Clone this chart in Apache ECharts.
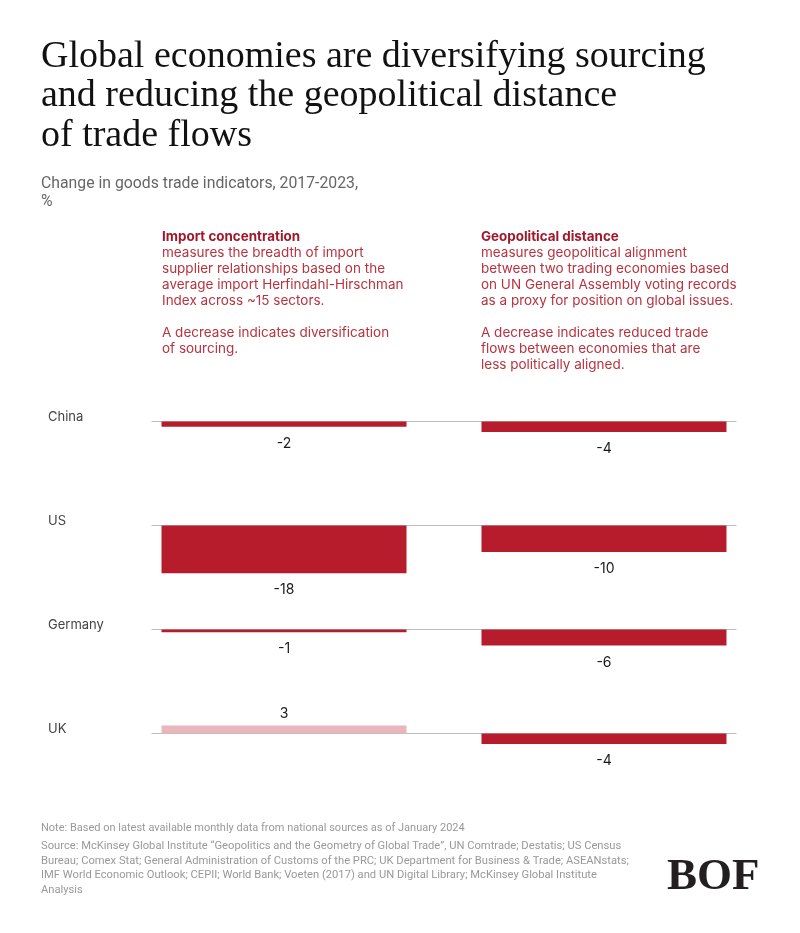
<!DOCTYPE html>
<html><head><meta charset="utf-8">
<script src="https://cdn.jsdelivr.net/npm/echarts@6/dist/echarts.min.js"></script>
<style>html,body{margin:0;padding:0;background:#fff}#c{width:800px;height:933px}</style>
</head><body><div id="c"></div>
<script>
// ---- data ----
const countries = ['China', 'US', 'Germany', 'UK'];
const importConcentration = [-2, -18, -1, 3];
const geopoliticalDistance = [-4, -10, -6, -4];
const panelTitles = ['Import concentration', 'Geopolitical distance'];
const panelTexts = [
  'measures the breadth of import\nsupplier relationships based on the\naverage import Herfindahl-Hirschman\nIndex across ~15 sectors.\n\nA decrease indicates diversification\nof sourcing.',
  'measures geopolitical alignment\nbetween two trading economies based\non UN General Assembly voting records\nas a proxy for position on global issues.\n\nA decrease indicates reduced trade\nflows between economies that are\nless politically aligned.'
];
const titleText = 'Global economies are diversifying sourcing\nand reducing the geopolitical distance\nof trade flows';
const subtitleText = 'Change in goods trade indicators, 2017-2023,\n%';
const noteText = 'Note: Based on latest available monthly data from national sources as of January 2024';
const sourceText = 'Source: McKinsey Global Institute \u201cGeopolitics and the Geometry of Global Trade\u201d, UN Comtrade; Destatis; US Census\nBureau; Comex Stat; General Administration of Customs of the PRC; UK Department for Business & Trade; ASEANstats;\nIMF World Economic Outlook; CEPII; World Bank; Voeten (2017) and UN Digital Library; McKinsey Global Institute\nAnalysis';

// ---- layout ----
const rowBaselines = [421.5, 525.5, 629.5, 733.5];
const pxPerUnit = 2.65, yMin = -20, yMax = 10;
const gridH = (yMax - yMin) * pxPerUnit;
const RED = '#b71c2c', PINK = '#e8b6bb';
const sans = 'Inter, Roboto, sans-serif';

const grids = [], xAxes = [], yAxes = [], series = [];
function item(v) {
  return {
    value: v,
    itemStyle: { color: v >= 0 ? PINK : RED },
    label: { position: v >= 0 ? 'top' : 'bottom', distance: v >= 0 ? 5 : 10 }
  };
}
countries.forEach((c, i) => {
  grids.push({ left: 152, width: 584, top: rowBaselines[i] - yMax * pxPerUnit, height: gridH, containLabel: false });
  xAxes.push({
    type: 'category', gridIndex: i, data: [c],
    axisLine: { show: true, onZero: true, lineStyle: { color: '#bdbdbd', width: 1 } },
    axisTick: { show: false }, axisLabel: { show: false }, splitLine: { show: false }
  });
  yAxes.push({ type: 'value', gridIndex: i, min: yMin, max: yMax, show: false, splitLine: { show: false } });
  const lab = { show: true, formatter: '{c}', color: '#1a1a1a', fontSize: 14, fontFamily: sans };
  series.push({
    type: 'bar', name: panelTitles[0], xAxisIndex: i, yAxisIndex: i,
    barWidth: 245, barGap: '30.6%', data: [item(importConcentration[i])], label: lab, silent: true, animation: false
  });
  series.push({
    type: 'bar', name: panelTitles[1], xAxisIndex: i, yAxisIndex: i,
    barWidth: 245, barGap: '30.6%', data: [item(geopoliticalDistance[i])], label: lab, silent: true, animation: false
  });
});

const graphics = [
  { type: 'text', left: 41, top: 37, style: { text: titleText, font: '38px "Liberation Serif", serif', fill: '#111', lineHeight: 39.5 } },
  { type: 'text', left: 41, top: 175, style: { text: subtitleText, font: '15.8px Roboto, sans-serif', fill: '#666', lineHeight: 18 } },
  { type: 'text', left: 41, top: 821, style: { text: noteText, font: '11px Roboto, sans-serif', fill: '#999', lineHeight: 14 } },
  { type: 'text', left: 41, top: 839, style: { text: sourceText, font: '11.2px Roboto, sans-serif', fill: '#999', lineHeight: 14.5 } },
  { type: 'text', left: 667, top: 855, style: { text: 'BOF', font: 'bold 45px "Liberation Serif", serif', fill: '#231f20' } }
];
[162, 481].forEach((x, k) => {
  graphics.push({ type: 'text', left: x, top: 229.3, style: { text: panelTitles[k], font: 'bold 13.4px ' + sans, fill: '#a0182b', lineHeight: 16 } });
  graphics.push({ type: 'text', left: x, top: 245.3, style: { text: panelTexts[k], font: '13.5px ' + sans, fill: '#b8333f', lineHeight: 16 } });
});
countries.forEach((c, i) => {
  graphics.push({ type: 'text', x: 48, y: rowBaselines[i] - 4, style: { text: c, font: '13px ' + sans, fill: '#444', textVerticalAlign: 'middle' } });
});

const chart = echarts.init(document.getElementById('c'));
chart.setOption({
  backgroundColor: '#fff',
  animation: false,
  grid: grids, xAxis: xAxes, yAxis: yAxes, series: series,
  graphic: graphics
});
</script></body></html>
